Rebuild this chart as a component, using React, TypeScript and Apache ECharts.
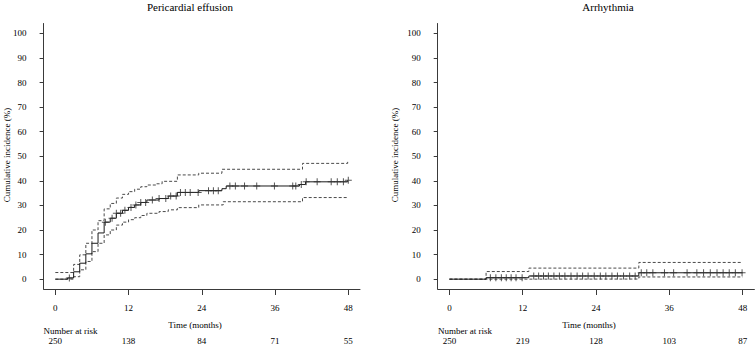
import React, { useEffect, useRef } from "react";
import * as echarts from "echarts";

// Shared tick positions
const MONTH_TICKS = [0, 12, 24, 36, 48];
const PCT_TICKS = [0, 10, 20, 30, 40, 50, 60, 70, 80, 90, 100];

// Pericardial effusion: cumulative incidence (%) with 95% CI
const PE_TIMES = [0, 2.0, 3.0, 4.0, 5.0, 6.0, 7.0, 8.0, 9.0, 10.0, 11.0, 12.0, 13.0, 14.0, 15.0, 17.0, 18.5, 20.0, 23.5, 27.3, 28.0, 40.0, 41.0, 47.9, 48];
const PE_CI = [0, 0.5, 3.0, 6.5, 10.3, 14.6, 18.8, 23.2, 24.8, 26.8, 28.0, 29.2, 30.2, 31.2, 32.2, 32.8, 33.8, 35.3, 36.0, 36.8, 37.9, 38.5, 39.6, 40.2, 40.2];
const PE_UPPER_TIMES = [0, 3.0, 4.0, 5.0, 6.0, 7.0, 8.0, 9.0, 10.0, 11.0, 12.0, 13.0, 14.0, 15.0, 16.5, 17.5, 20.0, 23.5, 27.3, 40.5, 47.9, 48];
const PE_UPPER = [2.7, 6.0, 9.9, 14.6, 20.0, 23.8, 28.6, 30.8, 33.0, 34.5, 35.6, 36.6, 37.6, 38.3, 38.8, 39.8, 42.4, 43.1, 44.7, 47.1, 47.8, 47.8];
const PE_LOWER_TIMES = [0, 3.0, 4.0, 5.0, 6.0, 7.0, 8.0, 9.0, 10.0, 11.0, 12.0, 13.0, 14.0, 15.0, 17.0, 18.5, 20.0, 23.5, 27.5, 40.5, 48];
const PE_LOWER = [0, 1.0, 3.8, 7.2, 11.2, 14.6, 18.0, 20.0, 22.0, 23.2, 24.2, 25.0, 25.9, 26.8, 27.5, 28.2, 29.1, 30.2, 31.5, 33.2, 33.2];
const PE_CENSOR = [2.3, 8.2, 9.3, 10.0, 10.7, 11.4, 12.4, 13.2, 14.0, 14.8, 15.9, 17.0, 18.1, 18.9, 19.8, 20.5, 21.3, 22.1, 23.4, 25.1, 25.9, 26.7, 28.6, 29.5, 31.0, 33.0, 35.9, 38.9, 39.4, 40.3, 41.1, 42.9, 45.2, 46.2, 47.2, 48];
const PE_RISK = [250, 138, 84, 71, 55];

// Arrhythmia: cumulative incidence (%) with 95% CI
const AR_TIMES = [0, 6.0, 13.0, 31.0, 48];
const AR_CI = [0, 0.6, 1.3, 2.6, 2.6];
const AR_UPPER_TIMES = [0, 6.0, 13.0, 31.0, 48];
const AR_UPPER = [0, 3.1, 4.5, 6.8, 6.8];
const AR_LOWER_TIMES = [0, 6.0, 31.0, 48];
const AR_LOWER = [0, 0.05, 0.9, 0.9];
const AR_CENSOR = [6.7, 7.6, 8.5, 9.3, 10.1, 10.9, 11.9, 13.8, 14.6, 15.4, 16.2, 17.1, 18.0, 18.9, 19.9, 20.9, 21.8, 22.7, 23.7, 24.7, 25.6, 26.6, 27.5, 28.5, 29.5, 30.4, 31.4, 32.3, 33.3, 35.2, 36.7, 38.9, 40.5, 41.6, 42.7, 43.8, 44.8, 45.8, 46.8, 47.9];
const AR_RISK = [250, 219, 128, 103, 87];

const FONT = "'Liberation Serif', 'Times New Roman', serif";
const AXIS_COLOR = "#3a3a3a";
const PLUS = "path://M3,0H4V7H3ZM0,3H7V4H0Z";

const pairs = (ts: number[], vs: number[]) => ts.map((t, i) => [t, vs[i]]);

// value of a right-continuous step function at time t
const stepValue = (ts: number[], vs: number[], t: number) => {
  let v = vs[0];
  for (let i = 0; i < ts.length; i++) if (ts[i] <= t) v = vs[i];
  return v;
};

type Panel = {
  times: number[];
  ci: number[];
  upperTimes: number[];
  upper: number[];
  lowerTimes: number[];
  lower: number[];
  censor: number[];
  risk: number[];
};

const PANELS: Panel[] = [
  { times: PE_TIMES, ci: PE_CI, upperTimes: PE_UPPER_TIMES, upper: PE_UPPER, lowerTimes: PE_LOWER_TIMES, lower: PE_LOWER, censor: PE_CENSOR, risk: PE_RISK },
  { times: AR_TIMES, ci: AR_CI, upperTimes: AR_UPPER_TIMES, upper: AR_UPPER, lowerTimes: AR_LOWER_TIMES, lower: AR_LOWER, censor: AR_CENSOR, risk: AR_RISK },
];

function buildOption() {
  const textStyle = { fontFamily: FONT, fontSize: 9, color: "#000" };
  const xMin = -1.92;
  const xMax = 49.92;

  const grid = [
    { left: 43.6, top: 23.5, width: 316.4, height: 265.5 },
    { left: 437.7, top: 23.5, width: 316.7, height: 265.5 },
  ];

  const xAxis: any[] = [];
  const yAxis: any[] = [];
  const series: any[] = [];

  PANELS.forEach((p, gi) => {
    // time axis
    xAxis.push({
      type: "value",
      gridIndex: gi,
      min: xMin,
      max: xMax,
      position: "bottom",
      splitLine: { show: false },
      axisLine: { show: true, onZero: false, lineStyle: { color: AXIS_COLOR, width: 1 } },
      axisTick: { show: true, length: 6, customValues: MONTH_TICKS, lineStyle: { color: AXIS_COLOR } },
      axisLabel: { customValues: MONTH_TICKS, margin: 14, ...textStyle },
    });
    // number-at-risk row, aligned on the same month scale
    xAxis.push({
      type: "value",
      gridIndex: gi,
      min: xMin,
      max: xMax,
      position: "bottom",
      splitLine: { show: false },
      axisLine: { show: false, onZero: false },
      axisTick: { show: false },
      axisLabel: {
        customValues: MONTH_TICKS,
        margin: 47,
        ...textStyle,
        formatter: (v: number) => String(p.risk[MONTH_TICKS.indexOf(Math.round(v))] ?? ""),
      },
    });
    yAxis.push({
      type: "value",
      gridIndex: gi,
      min: -4,
      max: 104,
      splitLine: { show: false },
      axisLine: { show: true, onZero: false, lineStyle: { color: AXIS_COLOR, width: 1 } },
      axisTick: { show: true, length: 4, customValues: PCT_TICKS, lineStyle: { color: AXIS_COLOR } },
      axisLabel: { customValues: PCT_TICKS, margin: 17, ...textStyle },
    });

    const xi = gi * 2;
    const base = { xAxisIndex: xi, yAxisIndex: gi, silent: true };
    series.push({
      ...base,
      type: "line",
      step: "end",
      showSymbol: false,
      data: pairs(p.upperTimes, p.upper),
      lineStyle: { color: "#4a4a4a", width: 1, type: [3, 2] },
      z: 2,
    });
    series.push({
      ...base,
      type: "line",
      step: "end",
      showSymbol: false,
      data: pairs(p.lowerTimes, p.lower),
      lineStyle: { color: "#4a4a4a", width: 1, type: [3, 2] },
      z: 2,
    });
    series.push({
      ...base,
      type: "line",
      step: "end",
      showSymbol: false,
      data: pairs(p.times, p.ci),
      lineStyle: { color: "#1a1a1a", width: 1 },
      z: 3,
    });
    series.push({
      ...base,
      type: "scatter",
      symbol: PLUS,
      symbolSize: 7,
      data: p.censor.map((t) => [t, stepValue(p.times, p.ci, t)]),
      itemStyle: { color: "#2a2a2a" },
      z: 4,
    });
  });

  const title = (text: string, x: number) => ({
    type: "text",
    x,
    y: 7,
    style: { text, fontFamily: FONT, fontSize: 11, fill: "#000", textAlign: "center", textVerticalAlign: "middle" },
  });
  const label = (text: string, x: number, y: number, align: string, rotation = 0) => ({
    type: "text",
    x,
    y,
    rotation,
    style: { text, fontFamily: FONT, fontSize: 9, fill: "#000", textAlign: align, textVerticalAlign: "middle" },
  });

  const graphic = [
    title("Pericardial effusion", 190),
    title("Arrhythmia", 608),
    label("Cumulative incidence (%)", 7, 155, "center", Math.PI / 2),
    label("Cumulative incidence (%)", 395, 155, "center", Math.PI / 2),
    label("Time (months)", 195, 324.5, "center"),
    label("Time (months)", 589, 324.5, "center"),
    label("Number at risk", 43.5, 331, "left"),
    label("Number at risk", 438, 331, "left"),
  ];

  return { animation: false, grid, xAxis, yAxis, series, graphic };
}

export default function App() {
  const ref = useRef<HTMLDivElement>(null);
  useEffect(() => {
    if (!ref.current) return;
    const chart = echarts.init(ref.current, undefined, { renderer: "svg" });
    chart.setOption(buildOption() as any);
    return () => chart.dispose();
  }, []);
  return (
    <div
      ref={ref}
      style={{ position: "absolute", left: 0, top: 0, width: 755, height: 345, background: "#fff" }}
    />
  );
}
